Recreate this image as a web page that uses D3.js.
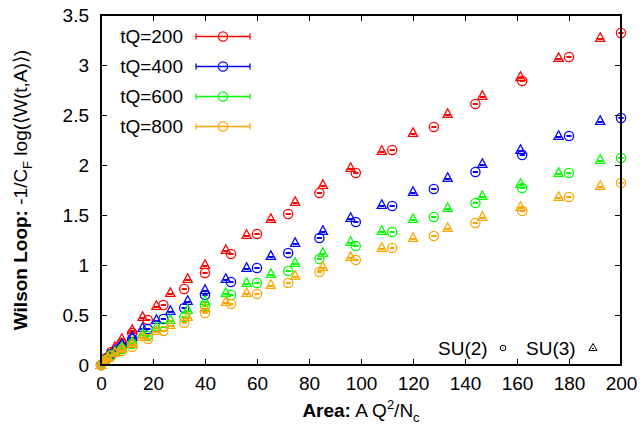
<!DOCTYPE html>
<html><head><meta charset="utf-8">
<script src="https://cdn.jsdelivr.net/npm/d3@7"></script>
<style>
html,body{margin:0;padding:0;background:#fff;}
svg{display:block;font-family:"Liberation Sans",Arial,sans-serif;}
</style></head>
<body><svg id="c" width="642" height="428"></svg>
<script>
// ---- data ----
const su2Area = [0, 2, 4, 8, 12, 18, 24, 32, 40, 50, 60, 72, 84, 98, 112, 128, 144, 162, 180, 200];
const su3Area = [0, 1.33, 2.67, 5.33, 8, 12, 16, 21.33, 26.67, 33.33, 40, 48, 56, 65.33, 74.67, 85.33, 96, 108, 120, 133.33, 146.67, 161.33, 176, 192];

const su2_tQ200 = [0, 0.07, 0.13, 0.22, 0.32, 0.45, 0.60, 0.76, 0.92, 1.11, 1.31, 1.51, 1.72, 1.92, 2.15, 2.38, 2.61, 2.84, 3.08, 3.32];
const su2_tQ400 = [0, 0.06, 0.11, 0.19, 0.26, 0.36, 0.46, 0.57, 0.70, 0.83, 0.97, 1.12, 1.27, 1.43, 1.59, 1.76, 1.93, 2.10, 2.29, 2.47];
const su2_tQ600 = [0, 0.055, 0.10, 0.16, 0.21, 0.29, 0.38, 0.48, 0.59, 0.70, 0.82, 0.94, 1.06, 1.19, 1.33, 1.48, 1.62, 1.77, 1.92, 2.07];
const su2_tQ800 = [0, 0.05, 0.09, 0.14, 0.18, 0.26, 0.34, 0.42, 0.52, 0.61, 0.71, 0.82, 0.93, 1.05, 1.17, 1.29, 1.42, 1.54, 1.68, 1.82];

const su3_tQ200 = [0, 0.05, 0.10, 0.18, 0.26, 0.35, 0.48, 0.59, 0.72, 0.86, 1.00, 1.15, 1.30, 1.46, 1.63, 1.80, 1.97, 2.14, 2.32, 2.51, 2.69, 2.88, 3.07, 3.27];
const su3_tQ400 = [0, 0.045, 0.09, 0.15, 0.21, 0.28, 0.37, 0.45, 0.54, 0.64, 0.75, 0.86, 0.97, 1.09, 1.22, 1.34, 1.47, 1.60, 1.73, 1.87, 2.01, 2.15, 2.29, 2.44];
const su3_tQ600 = [0, 0.04, 0.08, 0.13, 0.18, 0.23, 0.31, 0.38, 0.45, 0.55, 0.64, 0.72, 0.82, 0.91, 1.02, 1.12, 1.23, 1.34, 1.46, 1.57, 1.69, 1.81, 1.92, 2.05];
const su3_tQ800 = [0, 0.035, 0.07, 0.12, 0.16, 0.21, 0.28, 0.34, 0.40, 0.48, 0.57, 0.63, 0.72, 0.80, 0.89, 0.98, 1.08, 1.17, 1.27, 1.37, 1.48, 1.58, 1.68, 1.79];

const seriesNames = ["tQ=200", "tQ=400", "tQ=600", "tQ=800"];
const seriesColors = ["#ff0000", "#0000ff", "#00ff00", "#ffa500"];
const su2Values = [su2_tQ200, su2_tQ400, su2_tQ600, su2_tQ800];
const su3Values = [su3_tQ200, su3_tQ400, su3_tQ600, su3_tQ800];
const xTicks = [0, 20, 40, 60, 80, 100, 120, 140, 160, 180, 200];
const yTicks = [0, 0.5, 1, 1.5, 2, 2.5, 3, 3.5];

// ---- layout ----
const L = 101, R = 621, T = 15, B = 365;
const svg = d3.select("#c");
const x = d3.scaleLinear().domain([0, 200]).range([L, R]);
const y = d3.scaleLinear().domain([0, 3.5]).range([B, T]);
const FS = 19;

// axes
const fmt = d => String(d);
const gB = svg.append("g").attr("transform", `translate(0,${B})`)
  .call(d3.axisBottom(x).tickValues(xTicks).tickFormat(fmt).tickSizeInner(-6).tickSizeOuter(0).tickPadding(12));
const gT = svg.append("g").attr("transform", `translate(0,${T})`)
  .call(d3.axisTop(x).tickValues(xTicks).tickFormat("").tickSizeInner(-6).tickSizeOuter(0));
const gLf = svg.append("g").attr("transform", `translate(${L},0)`)
  .call(d3.axisLeft(y).tickValues(yTicks).tickFormat(fmt).tickSizeInner(-6).tickSizeOuter(0).tickPadding(12));
const gRt = svg.append("g").attr("transform", `translate(${R},0)`)
  .call(d3.axisRight(y).tickValues(yTicks).tickFormat("").tickSizeInner(-6).tickSizeOuter(0));
[gB, gT, gLf, gRt].forEach(g => {
  g.select(".domain").remove();
  g.selectAll("line").attr("stroke", "#000").attr("stroke-width", 1);
  g.selectAll("text").attr("font-size", FS).attr("fill", "#000").attr("font-family", null);
});

// markers
function triPath(cx, cy) {
  return `M${cx},${cy - 5.2}L${cx + 4.6},${cy + 3.4}L${cx - 4.6},${cy + 3.4}Z`;
}
const plot = svg.append("g");
seriesColors.forEach((col, i) => {
  const g = plot.append("g");
  const su2 = su2Area.map((a, k) => ({ a, v: su2Values[i][k] }));
  const su3 = su3Area.map((a, k) => ({ a, v: su3Values[i][k] }));
  g.selectAll("circle.p").data(su2).join("circle")
    .attr("cx", d => x(d.a)).attr("cy", d => y(d.v)).attr("r", 4.6)
    .attr("fill", "none").attr("stroke", col).attr("stroke-width", 1.3);
  g.selectAll("line.e2").data(su2).join("line").attr("class", "e2")
    .attr("x1", d => x(d.a) - 2.6).attr("x2", d => x(d.a) + 2.6)
    .attr("y1", d => y(d.v)).attr("y2", d => y(d.v))
    .attr("stroke", col).attr("stroke-width", 2);
  g.selectAll("path.t").data(su3).join("path").attr("class", "t")
    .attr("d", d => triPath(x(d.a), y(d.v)))
    .attr("fill", "none").attr("stroke", col).attr("stroke-width", 1.3);
  g.selectAll("line.e3").data(su3).join("line").attr("class", "e3")
    .attr("x1", d => x(d.a) - 2.6).attr("x2", d => x(d.a) + 2.6)
    .attr("y1", d => y(d.v) + 1).attr("y2", d => y(d.v) + 1)
    .attr("stroke", col).attr("stroke-width", 2);
});

// border
svg.append("rect").attr("x", L).attr("y", T).attr("width", R - L).attr("height", B - T)
  .attr("fill", "none").attr("stroke", "#000").attr("stroke-width", 2);

// legend (series)
const lg = svg.append("g");
seriesNames.forEach((n, i) => {
  const cy = 36.5 + i * 30;
  lg.append("text").attr("x", 183).attr("y", cy).attr("dy", "0.35em").attr("text-anchor", "end")
    .attr("font-size", FS).text(n);
  lg.append("line").attr("x1", 196).attr("x2", 250).attr("y1", cy).attr("y2", cy)
    .attr("stroke", seriesColors[i]).attr("stroke-width", 1.3);
  [196, 250].forEach(xx => lg.append("line").attr("x1", xx).attr("x2", xx).attr("y1", cy - 3).attr("y2", cy + 3)
    .attr("stroke", seriesColors[i]).attr("stroke-width", 1.3));
  lg.append("circle").attr("cx", 223).attr("cy", cy).attr("r", 4.6)
    .attr("fill", "none").attr("stroke", seriesColors[i]).attr("stroke-width", 1.3);
});

// legend (group types)
const lg2 = svg.append("g");
lg2.append("text").attr("x", 438).attr("y", 348).attr("dy", "0.35em").attr("font-size", FS).text("SU(2)");
lg2.append("circle").attr("cx", 503).attr("cy", 348).attr("r", 2.8).attr("fill", "none").attr("stroke", "#000").attr("stroke-width", 1);
lg2.append("circle").attr("cx", 503).attr("cy", 348).attr("r", 0.6).attr("fill", "#000");
lg2.append("text").attr("x", 526).attr("y", 348).attr("dy", "0.35em").attr("font-size", FS).text("SU(3)");
lg2.append("path").attr("d", `M593,${343.5}L597,${350.5}L589,${350.5}Z`).attr("fill", "none").attr("stroke", "#000").attr("stroke-width", 1);
lg2.append("line").attr("x1", 592).attr("x2", 594).attr("y1", 348.5).attr("y2", 348.5).attr("stroke", "#000").attr("stroke-width", 1);

// axis titles
const xt = svg.append("text").attr("x", (L + R) / 2).attr("y", 417).attr("text-anchor", "middle").attr("font-size", FS);
xt.append("tspan").attr("font-weight", "bold").text("Area:");
xt.append("tspan").text(" A Q");
xt.append("tspan").attr("font-size", 13).attr("dy", -8).text("2");
xt.append("tspan").attr("dy", 8).text("/N");
xt.append("tspan").attr("font-size", 13).attr("dy", 5).text("c");

const yt = svg.append("text").attr("transform", `translate(27,${(T + B) / 2}) rotate(-90)`)
  .attr("text-anchor", "middle").attr("font-size", FS);
yt.append("tspan").attr("font-weight", "bold").text("Wilson Loop:");
yt.append("tspan").text(" -1/C");
yt.append("tspan").attr("font-size", 13).attr("dy", 5).text("F");
yt.append("tspan").attr("dy", -5).text(" log(\u27E8W(t,A)\u27E9)");
</script>
</body></html>
